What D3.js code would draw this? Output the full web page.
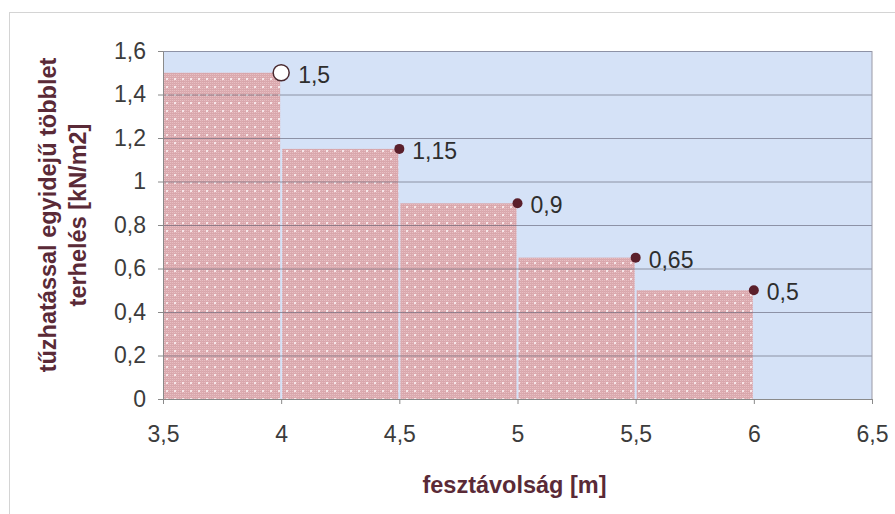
<!DOCTYPE html>
<html>
<head>
<meta charset="utf-8">
<script src="https://cdn.jsdelivr.net/npm/d3@7"></script>
<style>
    body { margin: 0; background: #fff; }
    text { font-family: "Liberation Sans", Arial, sans-serif; }
</style>
</head>
<body>
<div id="chart"></div>
<script>
// data
const spanValues = [4, 4.5, 5, 5.5, 6]            // fesztávolság [m]
const loadValues = [1.5, 1.15, 0.9, 0.65, 0.5]     // többlet terhelés [kN/m2]
const pointLabels = ["1,5", "1,15", "0,9", "0,65", "0,5"]
const xTicks = [3.5, 4, 4.5, 5, 5.5, 6, 6.5]
const yTicks = [0, 0.2, 0.4, 0.6, 0.8, 1, 1.2, 1.4, 1.6]
const xTitle = "fesztávolság [m]"
const yTitleLines = ["tűzhatással egyidejű többlet", "terhelés [kN/m2]"]

const dimensions = {
    width: 895,
    height: 514,
    margin: {
        top: 51,
        right: 23,
        bottom: 115,
        left: 163,
    },
}
dimensions.boundedWidth = dimensions.width
    - dimensions.margin.left
    - dimensions.margin.right
dimensions.boundedHeight = dimensions.height
    - dimensions.margin.top
    - dimensions.margin.bottom

const commaFormat = d => d3.format("")(d).replace(".", ",")

const wrapper = d3.select("#chart")
    .append("svg")
    .attr("width", dimensions.width)
    .attr("height", dimensions.height)

// outer chart frame
wrapper.append("rect")
    .attr("x", 9.5)
    .attr("y", 12.5)
    .attr("width", 900)
    .attr("height", 520)
    .attr("fill", "none")
    .attr("stroke", "#d4d4d4")

// dotted pink fill for the step bars
const defs = wrapper.append("defs")
const pattern = defs.append("pattern")
    .attr("id", "pinkDots")
    .attr("patternUnits", "userSpaceOnUse")
    .attr("width", 8)
    .attr("height", 8)
pattern.append("rect")
    .attr("width", 8).attr("height", 8)
    .attr("fill", "#e8bfc3")
for (let i = 0; i < 8; i += 2) {
    pattern.append("rect")
        .attr("x", 0).attr("y", i)
        .attr("width", 8).attr("height", 1)
        .attr("fill", "#d8a6ab")
    pattern.append("rect")
        .attr("x", i).attr("y", 0)
        .attr("width", 1).attr("height", 8)
        .attr("fill", "#dcabb0")
}
pattern.append("rect")
    .attr("x", 3).attr("y", 3)
    .attr("width", 2).attr("height", 2)
    .attr("fill", "#f7e8ea")

const bounds = wrapper.append("g")
    .style("transform", `translate(${dimensions.margin.left}px, ${dimensions.margin.top}px)`)

const xScale = d3.scaleLinear()
    .domain([3.5, 6.5])
    .range([0, dimensions.boundedWidth])

const yScale = d3.scaleLinear()
    .domain([0, 1.6])
    .range([dimensions.boundedHeight, 0])

// plot background
bounds.append("rect")
    .attr("width", dimensions.boundedWidth)
    .attr("height", dimensions.boundedHeight)
    .attr("fill", "#d5e2f7")

// step bars: each runs from the previous span to its own span
const bars = spanValues.map((s, i) => ({
    x0: i == 0 ? 3.5 : spanValues[i - 1],
    x1: s,
    v: loadValues[i],
}))

bounds.selectAll(".bar")
    .data(bars)
    .join("rect")
    .attr("class", "bar")
    .attr("x", d => xScale(d.x0) + (d.x0 == 3.5 ? 0 : 1))
    .attr("y", d => yScale(d.v))
    .attr("width", d => xScale(d.x1) - xScale(d.x0) - (d.x0 == 3.5 ? 1 : 2))
    .attr("height", d => yScale(0) - yScale(d.v))
    .attr("fill", "url(#pinkDots)")

// horizontal gridlines (drawn over the bars)
const yGridlinesGenerator = d3.axisLeft(yScale)
    .tickValues(yTicks)
    .tickSize(-dimensions.boundedWidth)
    .tickFormat("")
const yGrid = bounds.append("g")
    .call(yGridlinesGenerator)
yGrid.select(".domain").remove()
yGrid.selectAll("line")
    .attr("stroke", "#5e5e70")
    .attr("stroke-opacity", 0.6)

// right border of plot
bounds.append("line")
    .attr("x1", dimensions.boundedWidth).attr("x2", dimensions.boundedWidth)
    .attr("y1", 0).attr("y2", dimensions.boundedHeight)
    .attr("stroke", "#9a9aa6")

// axes
const yAxisGenerator = d3.axisLeft(yScale)
    .tickValues(yTicks)
    .tickSizeInner(5)
    .tickSizeOuter(0)
    .tickPadding(12)
    .tickFormat(commaFormat)
const yAxis = bounds.append("g")
    .call(yAxisGenerator)

const xAxisGenerator = d3.axisBottom(xScale)
    .tickValues(xTicks)
    .tickSizeInner(5)
    .tickSizeOuter(0)
    .tickPadding(22)
    .tickFormat(commaFormat)
const xAxis = bounds.append("g")
    .attr("transform", `translate(0, ${dimensions.boundedHeight})`)
    .call(xAxisGenerator)

for (const axis of [xAxis, yAxis]) {
    axis.select(".domain").attr("stroke", "#8a8a8a")
    axis.selectAll(".tick line").attr("stroke", "#8a8a8a")
    axis.selectAll(".tick text")
        .attr("fill", "#3c3c3c")
        .style("font-size", "23px")
}

// points
bounds.selectAll(".point")
    .data(spanValues)
    .join("circle")
    .attr("class", "point")
    .attr("cx", d => xScale(d))
    .attr("cy", (d, i) => yScale(loadValues[i]))
    .attr("r", (d, i) => i == 0 ? 8 : 5)
    .attr("fill", (d, i) => i == 0 ? "#ffffff" : "#5a1f2b")
    .attr("stroke", (d, i) => i == 0 ? "#4a2a30" : "none")
    .attr("stroke-width", 1.5)

bounds.selectAll(".point-label")
    .data(spanValues)
    .join("text")
    .attr("class", "point-label")
    .attr("x", (d, i) => xScale(d) + (i == 0 ? 17 : 13))
    .attr("y", (d, i) => yScale(loadValues[i]) + 10)
    .attr("fill", "#2e2e2e")
    .style("font-size", "23px")
    .text((d, i) => pointLabels[i])

// axis titles
wrapper.append("text")
    .attr("x", dimensions.margin.left + dimensions.boundedWidth / 2 - 3)
    .attr("y", 493)
    .attr("text-anchor", "middle")
    .attr("fill", "#5a2a37")
    .style("font-size", "23.5px")
    .style("font-weight", "bold")
    .text(xTitle)

const yTitle = wrapper.append("text")
    .attr("transform", "translate(48, 215) rotate(-90)")
    .attr("text-anchor", "middle")
    .attr("fill", "#5a2a37")
    .style("font-size", "23.5px")
    .style("font-weight", "bold")
yTitle.selectAll("tspan")
    .data(yTitleLines)
    .join("tspan")
    .attr("x", 0)
    .attr("dy", (d, i) => i == 0 ? "0.35em" : "1.25em")
    .text(d => d)
</script>
</body>
</html>
